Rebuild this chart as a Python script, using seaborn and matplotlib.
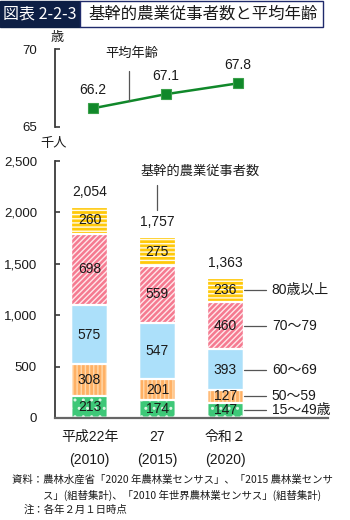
import matplotlib
matplotlib.use("Agg")
import matplotlib.pyplot as plt
from matplotlib.patches import Rectangle
import numpy as np
import pandas as pd
import seaborn as sns

# ---- data ----
years = ["2010", "2015", "2020"]
year_labels_top = ["平成22年", "27", "令和２"]
year_labels_bottom = ["(2010)", "(2015)", "(2020)"]
avg_age = [66.2, 67.1, 67.8]

age_groups = ["15〜49歳", "50〜59", "60〜69", "70〜79", "80歳以上"]
workers_15_49 = [213, 174, 147]
workers_50_59 = [308, 201, 127]
workers_60_69 = [575, 547, 393]
workers_70_79 = [698, 559, 460]
workers_80_up = [260, 275, 236]
totals = [2054, 1757, 1363]

age_ticks = [65, 70]
count_ticks = [0, 500, 1000, 1500, 2000, 2500]

sns.set_theme(style="white")
plt.rcParams["font.family"] = ["Liberation Sans", "Noto Sans CJK JP", "DejaVu Sans"]
plt.rcParams["hatch.linewidth"] = 1.0

W, H = 350, 520
fig = plt.figure(figsize=(W / 100, H / 100), dpi=100)


def fx(px):
    return px / W


def fy(py):
    return 1 - py / H


ink = "#1a1a1a"
spine_col = "#3a3a3a"
line_green = "#10882a"

# ---- header ----
fig.patches.append(Rectangle((fx(0), fy(27)), fx(80), 26 / H, transform=fig.transFigure,
                             facecolor="#0d1f45", edgecolor="#0d1f45", lw=1))
fig.patches.append(Rectangle((fx(80), fy(27)), fx(243), 26 / H, transform=fig.transFigure,
                             facecolor="white", edgecolor="#1f2a6b", lw=1))
fig.text(fx(3), fy(14), "図表 2-2-3", color="white", fontsize=11.5, va="center", ha="left",
         family=["Noto Sans CJK JP"])
fig.text(fx(88), fy(14), "基幹的農業従事者数と平均年齢", color=ink, fontsize=11.8,
         va="center", ha="left", family=["Noto Sans CJK JP"])


def style_left_spine(ax):
    for s in ["top", "right"]:
        ax.spines[s].set_visible(False)
    sp = ax.spines["left"]
    sp.set_visible(True)
    sp.set_color(spine_col)
    sp.set_linewidth(1.3)
    sp.set_zorder(5)
    ax.tick_params(axis="y", which="major", left=True, direction="in", length=3.5,
                   width=1.2, color=spine_col, labelsize=9.5, labelcolor=ink, pad=13)


# ---- average age (line) ----
ax1 = fig.add_axes([fx(55), fy(127), fx(273), 78 / H])
age_df = pd.DataFrame({"pos": [0, 1, 2], "age": avg_age})
sns.lineplot(data=age_df, x="pos", y="age", ax=ax1, color=line_green, lw=1.8,
             marker="s", markersize=7, markeredgecolor="#3aa04a", markeredgewidth=0.8)
ax1.set_xlim(-0.524, 3.24)
ax1.set_ylim(65, 70)
ax1.set_yticks(age_ticks)
ax1.set_xticks([])
ax1.set_xlabel("")
ax1.set_ylabel("")
ax1.spines["bottom"].set_visible(False)
style_left_spine(ax1)
ax1.patch.set_alpha(0)
for i, v in enumerate(avg_age):
    ax1.annotate(f"{v:.1f}", (i, v), xytext=(0, 13), textcoords="offset points",
                 ha="center", va="center", fontsize=10, color=ink)
ax1.text(0.54, 69.74, "平均年齢", ha="center", va="center", fontsize=9.5, color=ink,
         family=["Noto Sans CJK JP"])
ax1.plot([0.497, 0.497], [68.59, (avg_age[0] + avg_age[1]) / 2], color="#555555", lw=0.9)
fig.text(fx(57), fy(38), "歳", ha="center", va="center", fontsize=9.5, color=ink,
         family=["Noto Sans CJK JP"])

# ---- workers (stacked bars) ----
ax2 = fig.add_axes([fx(55), fy(418), fx(273), 257 / H])

layers = [workers_15_49, workers_50_59, workers_60_69, workers_70_79, workers_80_up]
fills = ["#3ec878", "#ffb165", "#ace0fa", "#f57a90", "#ffc90a"]
hatch_cols = ["#d8f5e2", "#ffd9ac", "#ace0fa", "#ffe6ea", "#fffbea"]
hatches = ["..", "||||", "", "//////", "----"]

cum = np.cumsum(np.array(layers), axis=0)
bar_w = 0.544

# draw from the top layer down so each lower layer covers the one above
for k in range(len(layers) - 1, -1, -1):
    df = pd.DataFrame({"year": years, "value": cum[k]})
    sns.barplot(data=df, x="year", y="value", ax=ax2, color=fills[k], width=bar_w,
                saturation=1, edgecolor=hatch_cols[k], linewidth=0, hatch=hatches[k],
                errorbar=None)
# white separators between segments
for k in range(len(layers)):
    df = pd.DataFrame({"year": years, "value": cum[k]})
    sns.barplot(data=df, x="year", y="value", ax=ax2, color="white", width=bar_w,
                fill=False, linewidth=1.6, errorbar=None)

ax2.set_xlim(-0.507, 3.51)
ax2.set_ylim(0, 2500)
ax2.set_yticks(count_ticks)
ax2.set_yticklabels([f"{t:,}" for t in count_ticks])
ax2.set_xticks([])
ax2.set_xlabel("")
ax2.set_ylabel("")
style_left_spine(ax2)
ax2.spines["bottom"].set_visible(True)
ax2.spines["bottom"].set_color("#666666")
ax2.spines["bottom"].set_linewidth(1.6)
ax2.spines["bottom"].set_zorder(5)
ax2.patch.set_alpha(0)

# segment values
for k, vals in enumerate(layers):
    for i, v in enumerate(vals):
        ax2.text(i, cum[k][i] - v / 2, str(v), ha="center", va="center",
                 fontsize=10, color=ink)

# totals
for i, t in enumerate(totals):
    ax2.annotate(f"{t:,}", (i, t), xytext=(0, 11), textcoords="offset points",
                 ha="center", va="center", fontsize=10, color=ink)

# series label
ax2.text(1.625, 2403, "基幹的農業従事者数", ha="center", va="center", fontsize=9.5,
         color=ink, family=["Noto Sans CJK JP"])
ax2.plot([1, 1], [2266, 2023], color="#555555", lw=0.9)

# age-group labels beside the last bar
last = len(years) - 1
for k, name in enumerate(age_groups):
    yc = cum[k][last] - layers[k][last] / 2
    ax2.plot([last + bar_w / 2, 2.596], [yc, yc], color="#555555", lw=0.9)
    ax2.text(2.684, yc, name, ha="left", va="center", fontsize=10, color=ink)

# year labels
tr = ax2.get_xaxis_transform()
for i in range(len(years)):
    ax2.text(i, -(437 - 418) / 257, year_labels_top[i], transform=tr, ha="center",
             va="center", fontsize=10, color=ink)
    ax2.text(i, -(460 - 418) / 257, year_labels_bottom[i], transform=tr, ha="center",
             va="center", fontsize=10, color=ink)

fig.text(fx(54), fy(143), "千人", ha="center", va="center", fontsize=9.5, color=ink,
         family=["Noto Sans CJK JP"])

# ---- notes ----
note_font = ["Noto Sans CJK JP"]
fig.text(fx(12), fy(480), "資料：農林水産省「2020 年農林業センサス」、「2015 農林業センサ",
         ha="left", va="center", fontsize=7.5, color=ink, family=note_font)
fig.text(fx(43), fy(495), "ス」(組替集計)、「2010 年世界農林業センサス」(組替集計)",
         ha="left", va="center", fontsize=7.5, color=ink, family=note_font)
fig.text(fx(24), fy(510), "注：各年２月１日時点", ha="left", va="center", fontsize=7.5,
         color=ink, family=note_font)

fig.savefig("out.png", dpi=100)
